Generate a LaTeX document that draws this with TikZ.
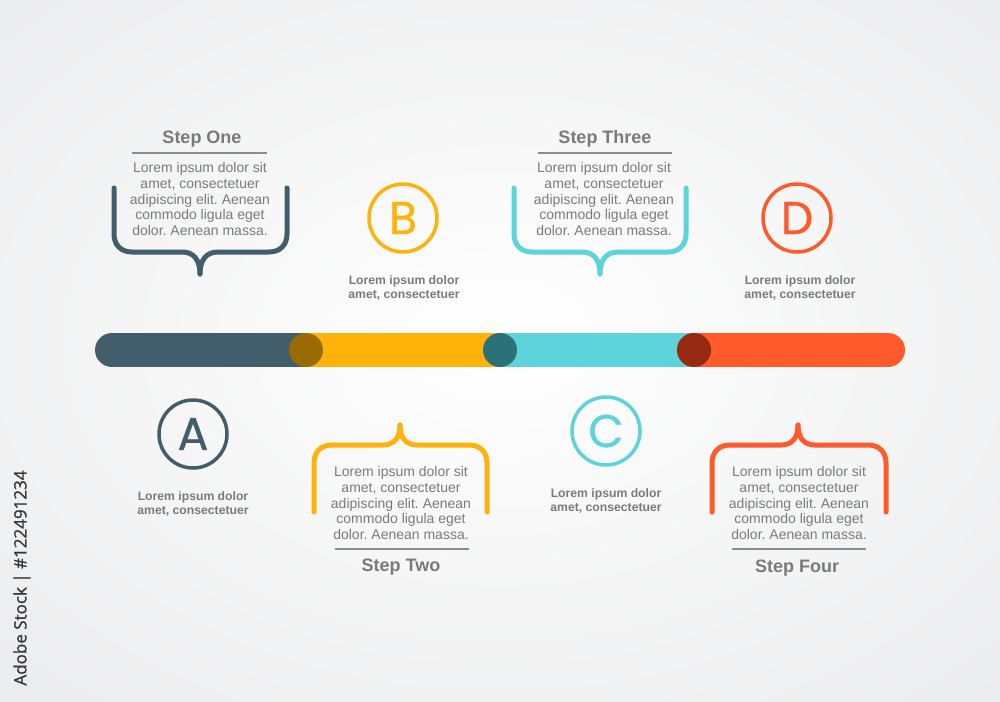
\documentclass[tikz,border=0pt]{standalone}
\usepackage{fontspec}
\setmainfont{Liberation Sans}
\newfontfamily\wmfont[FakeBold=1.2]{Open Sans}
\newfontfamily\letterfont[FakeBold=0.7]{Poppins}
\frenchspacing
\definecolor{cdark}{HTML}{425E6C}
\definecolor{cyel}{HTML}{FFB20A}
\definecolor{ccyan}{HTML}{5DD3DB}
\definecolor{corange}{HTML}{FF5A2B}
\definecolor{ovA}{HTML}{9A6B00}
\definecolor{ovB}{HTML}{2A7278}
\definecolor{ovC}{HTML}{962A10}
\definecolor{txtgray}{HTML}{7A7A7A}
\definecolor{rulegray}{HTML}{8C8C8C}
\definecolor{bgedge}{HTML}{E3E4E6}
\tikzset{
  body/.style={align=center, text=txtgray, inner sep=0pt, font=\fontsize{14}{15.6}\selectfont},
  lbl/.style={align=center, text=txtgray, inner sep=0pt, font=\fontsize{12.2}{14}\selectfont\bfseries},
  title/.style={text=txtgray, inner sep=0pt, font=\fontsize{18}{20}\selectfont\bfseries},
  rulel/.style={draw=rulegray, line width=2.4pt},
  brace/.style={line width=5pt, line cap=round, line join=round},
  letter/.style={circle, line width=3.5pt, minimum size=68pt, inner sep=0pt, font=\letterfont\fontsize{46}{46}\selectfont},
  barseg/.style={line width=34pt}
}
\begin{document}
\begin{tikzpicture}[x=1pt,y=-1pt]
\useasboundingbox (0,0) rectangle (1000,701);
\begin{scope}
\clip (0,0) rectangle (1000,701);
\shade[inner color=white, outer color=bgedge] (-520,-360) rectangle (1520,1040);
\end{scope}

% side label
\node[rotate=90, text=black!78, inner sep=0pt, font=\wmfont\fontsize{17}{17}\selectfont] (wm) at (22,578) {Adobe Stock | \#122491234};

% bar
\draw[barseg, cdark, line cap=round] (112,350) -- (306,350);
\draw[barseg, cyel] (306,350) -- (500,350);
\draw[barseg, ccyan] (500,350) -- (694,350);
\draw[barseg, corange, line cap=round] (694,350) -- (888,350);
\fill[ovA] (306,350) circle (17);
\fill[ovB] (500,350) circle (17);
\fill[ovC] (694,350) circle (17);

% letter circles
\node[letter, draw=cdark, text=cdark] (A) at (193,434) {A};
\node[letter, draw=cyel, text=cyel] (B) at (403,218) {B};
\node[letter, draw=ccyan, text=ccyan] (C) at (606,431) {C};
\node[letter, draw=corange, text=corange] (D) at (797,218) {D};

\node[lbl] (la) at (193,504) {Lorem ipsum dolor\\amet, consectetuer};
\node[lbl] (lb) at (404,288) {Lorem ipsum dolor\\amet, consectetuer};
\node[lbl] (lc) at (606,501) {Lorem ipsum dolor\\amet, consectetuer};
\node[lbl] (ld) at (800,288) {Lorem ipsum dolor\\amet, consectetuer};

% Step One
\node[title] (t1) at (202,139) {Step One};
\draw[rulel] (132,153) -- (267,153);
\node[body] (b1) at (200,199) {Lorem ipsum dolor sit\\amet, consectetuer\\adipiscing elit. Aenean\\commodo ligula eget\\dolor. Aenean massa.};
\draw[brace, cdark] (114,188) -- (114,234) .. controls (114,245) and (121,252) .. (132,252) -- (182,252) .. controls (193,252) and (200,259) .. (200,274);
\draw[brace, cdark] (287,188) -- (287,234) .. controls (287,245) and (280,252) .. (269,252) -- (218,252) .. controls (207,252) and (200,259) .. (200,274);

% Step Three
\node[title] (t3) at (605,139) {Step Three};
\draw[rulel] (538,153) -- (672,153);
\node[body] (b3) at (604,199) {Lorem ipsum dolor sit\\amet, consectetuer\\adipiscing elit. Aenean\\commodo ligula eget\\dolor. Aenean massa.};
\draw[brace, ccyan] (514,188) -- (514,234) .. controls (514,245) and (521,252) .. (532,252) -- (582,252) .. controls (593,252) and (600,259) .. (600,274);
\draw[brace, ccyan] (686,188) -- (686,234) .. controls (686,245) and (679,252) .. (668,252) -- (618,252) .. controls (607,252) and (600,259) .. (600,274);

% Step Two
\node[body] (b2) at (401,503) {Lorem ipsum dolor sit\\amet, consectetuer\\adipiscing elit. Aenean\\commodo ligula eget\\dolor. Aenean massa.};
\draw[rulel] (335,549) -- (469,549);
\node[title] (t2) at (401,567) {Step Two};
\draw[brace, cyel] (314,512) -- (314,463) .. controls (314,452) and (321,445) .. (332,445) -- (383,445) .. controls (394,445) and (400,438) .. (400,425);
\draw[brace, cyel] (487,512) -- (487,463) .. controls (487,452) and (480,445) .. (469,445) -- (417,445) .. controls (406,445) and (400,438) .. (400,425);

% Step Four
\node[body] (b4) at (799,503) {Lorem ipsum dolor sit\\amet, consectetuer\\adipiscing elit. Aenean\\commodo ligula eget\\dolor. Aenean massa.};
\draw[rulel] (732,549) -- (866,549);
\node[title] (t4) at (797,568) {Step Four};
\draw[brace, corange] (712,512) -- (712,463) .. controls (712,452) and (719,445) .. (730,445) -- (781,445) .. controls (792,445) and (798,438) .. (798,425);
\draw[brace, corange] (886,512) -- (886,463) .. controls (886,452) and (879,445) .. (868,445) -- (815,445) .. controls (804,445) and (798,438) .. (798,425);
\end{tikzpicture}
\end{document}
